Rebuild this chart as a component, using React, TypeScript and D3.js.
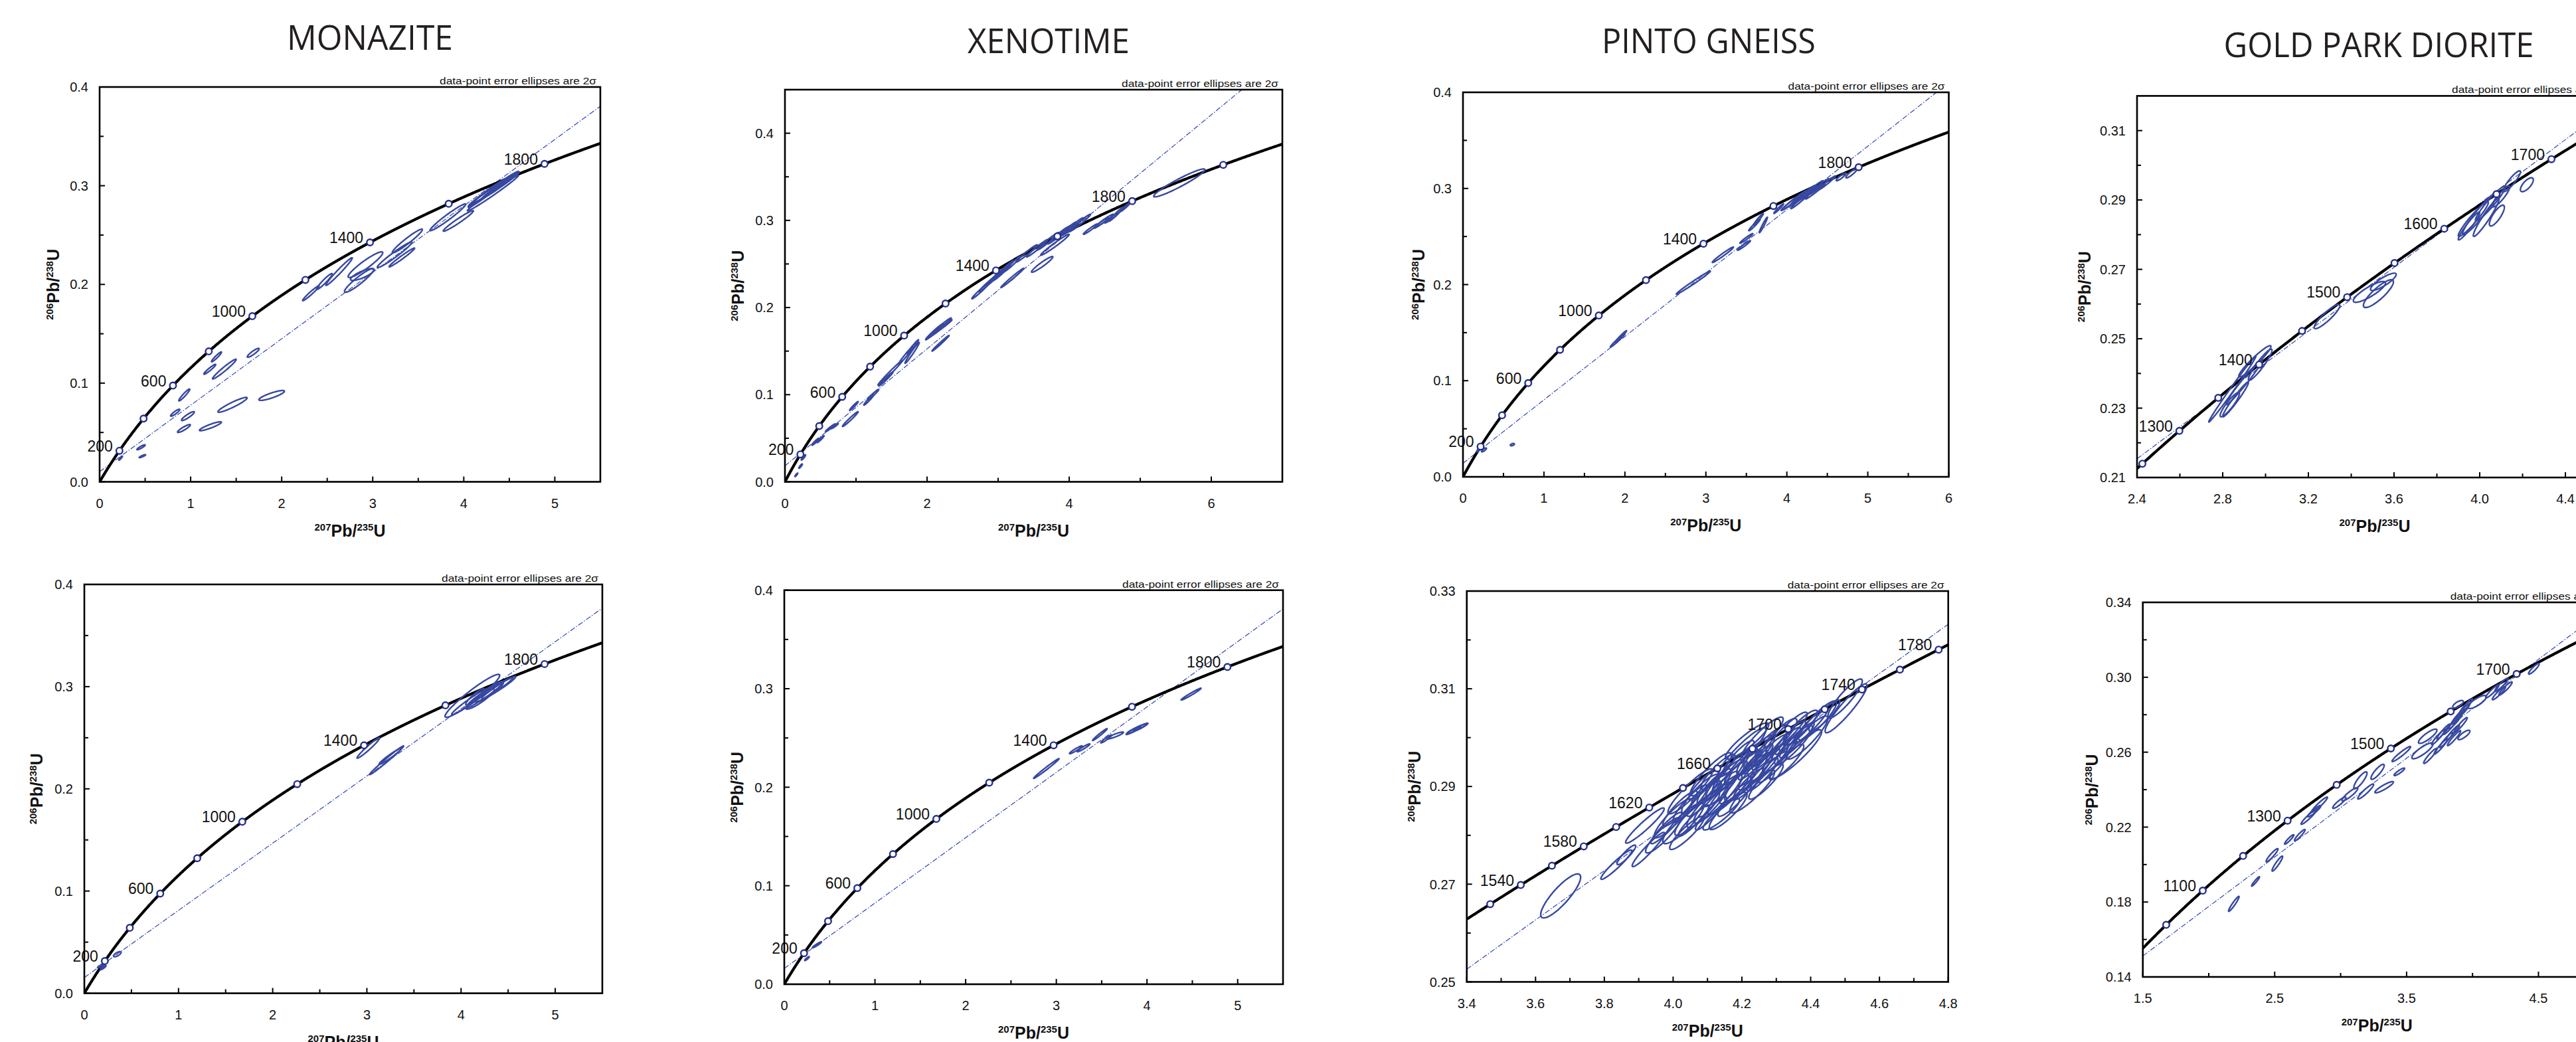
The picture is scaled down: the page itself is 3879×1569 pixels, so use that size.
import React from "react";
import * as d3 from "d3";

// U decay constants (per Ma) used for the Wetherill concordia
const LAMBDA_238 = 1.55125e-4;
const LAMBDA_235 = 9.8485e-4;

// ellipse rows: [207Pb/235U, 206Pb/238U, 2s x, 2s y, rho]
type Ell = [number, number, number, number, number];

const monaziteTopEllipses: Ell[] = [
  [0.23, 0.024, 0.02, 0.002, 0.9], [0.455, 0.035, 0.045, 0.0025, 0.9], [0.47, 0.026, 0.035, 0.0015, 0.9],
  [0.93, 0.088, 0.06, 0.006, 0.95], [0.83, 0.07, 0.05, 0.0035, 0.9], [0.97, 0.0666, 0.07, 0.0045, 0.9],
  [0.926, 0.054, 0.07, 0.004, 0.9], [1.217, 0.0563, 0.12, 0.0045, 0.9], [1.46, 0.078, 0.16, 0.0075, 0.93],
  [1.89, 0.0875, 0.14, 0.005, 0.85], [1.21, 0.114, 0.065, 0.005, 0.95], [1.284, 0.1266, 0.055, 0.005, 0.95],
  [1.37, 0.1142, 0.13, 0.01, 0.97], [1.687, 0.1307, 0.065, 0.0045, 0.9], [2.32, 0.191, 0.09, 0.0075, 0.97],
  [2.47, 0.203, 0.085, 0.008, 0.95], [2.63, 0.213, 0.145, 0.014, 0.98], [2.92, 0.22, 0.19, 0.013, 0.93],
  [2.85, 0.204, 0.16, 0.012, 0.93], [2.886, 0.21, 0.13, 0.006, 0.8], [3.24, 0.23, 0.19, 0.013, 0.97],
  [3.38, 0.244, 0.165, 0.012, 0.96], [3.32, 0.2273, 0.14, 0.0095, 0.98], [3.825, 0.268, 0.195, 0.0135, 0.97],
  [3.94, 0.2643, 0.165, 0.0104, 0.97], [4.35, 0.2985, 0.25, 0.016, 0.99], [4.3, 0.295, 0.22, 0.014, 0.99],
  [4.25, 0.292, 0.2, 0.014, 0.98], [4.4, 0.3, 0.2, 0.013, 0.99], [4.2, 0.289, 0.15, 0.01, 0.98],
  [4.45, 0.304, 0.16, 0.01, 0.99], [4.32, 0.2925, 0.28, 0.018, 0.99],
];

const xenotimeTopEllipses: Ell[] = [
  [0.16, 0.008, 0.02, 0.002, 0.9], [0.22, 0.018, 0.025, 0.0025, 0.9], [0.26, 0.028, 0.03, 0.003, 0.9],
  [0.43, 0.046, 0.05, 0.004, 0.95], [0.5, 0.049, 0.05, 0.004, 0.95], [0.64, 0.062, 0.07, 0.0045, 0.97],
  [0.7, 0.064, 0.05, 0.003, 0.95], [0.92, 0.072, 0.11, 0.0085, 0.98], [0.97, 0.087, 0.06, 0.005, 0.97],
  [1.18, 0.094, 0.07, 0.006, 0.97], [1.24, 0.1, 0.08, 0.006, 0.97], [1.48, 0.125, 0.17, 0.014, 0.99],
  [1.42, 0.118, 0.1, 0.008, 0.98], [1.7, 0.145, 0.1, 0.01, 0.98], [1.79, 0.148, 0.1, 0.012, 0.98],
  [1.8, 0.155, 0.08, 0.008, 0.98], [2.1, 0.172, 0.12, 0.009, 0.98], [2.17, 0.175, 0.18, 0.011, 0.99],
  [2.22, 0.18, 0.12, 0.008, 0.98], [2.19, 0.159, 0.12, 0.009, 0.99], [2.75, 0.219, 0.12, 0.009, 0.98],
  [2.85, 0.227, 0.12, 0.009, 0.98], [2.95, 0.234, 0.12, 0.009, 0.98], [3.0, 0.238, 0.12, 0.009, 0.98],
  [3.05, 0.24, 0.12, 0.009, 0.98], [3.1, 0.245, 0.12, 0.009, 0.98], [3.2, 0.25, 0.12, 0.009, 0.98],
  [3.2, 0.234, 0.16, 0.011, 0.99], [3.62, 0.2495, 0.15, 0.009, 0.95], [3.4, 0.262, 0.15, 0.01, 0.98],
  [3.55, 0.268, 0.15, 0.01, 0.98], [3.7, 0.276, 0.15, 0.01, 0.98], [3.85, 0.283, 0.15, 0.01, 0.98],
  [3.8, 0.272, 0.2, 0.012, 0.98], [3.95, 0.288, 0.15, 0.01, 0.98], [4.05, 0.293, 0.15, 0.01, 0.98],
  [4.15, 0.297, 0.15, 0.01, 0.98], [4.3, 0.29, 0.1, 0.006, 0.97], [4.45, 0.297, 0.1, 0.006, 0.97],
  [4.5, 0.3, 0.12, 0.007, 0.97], [4.6, 0.303, 0.1, 0.006, 0.97], [4.66, 0.307, 0.1, 0.008, 0.98],
  [4.8, 0.316, 0.08, 0.006, 0.98], [5.55, 0.343, 0.36, 0.016, 0.95],
];

const pintoTopEllipses: Ell[] = [
  [0.2, 0.029, 0.03, 0.003, 0.9], [0.26, 0.028, 0.03, 0.002, 0.8], [0.61, 0.0335, 0.025, 0.0012, 0.5],
  [1.91, 0.142, 0.09, 0.007, 0.98], [1.95, 0.146, 0.07, 0.006, 0.98], [2.845, 0.202, 0.21, 0.012, 0.99],
  [3.21, 0.231, 0.13, 0.008, 0.98], [3.47, 0.2407, 0.08, 0.005, 0.97], [3.5, 0.248, 0.08, 0.005, 0.97],
  [3.6, 0.262, 0.07, 0.006, 0.97], [3.71, 0.262, 0.05, 0.008, 0.97], [3.65, 0.268, 0.06, 0.006, 0.97],
  [3.9, 0.279, 0.06, 0.005, 0.97], [4.05, 0.285, 0.12, 0.008, 0.98], [4.1, 0.288, 0.15, 0.01, 0.98],
  [4.2, 0.293, 0.15, 0.01, 0.98], [4.25, 0.295, 0.12, 0.008, 0.98], [4.3, 0.298, 0.15, 0.01, 0.98],
  [4.35, 0.297, 0.12, 0.008, 0.98], [4.4, 0.302, 0.12, 0.008, 0.98], [4.5, 0.306, 0.1, 0.007, 0.98],
  [4.15, 0.286, 0.1, 0.007, 0.98], [4.67, 0.312, 0.06, 0.004, 0.9], [4.8, 0.316, 0.07, 0.005, 0.9],
];

const goldTopEllipses: Ell[] = [
  [2.845, 0.2355, 0.11, 0.0095, 0.995], [2.833, 0.231, 0.045, 0.0035, 0.9], [2.95, 0.2435, 0.075, 0.0045, 0.95],
  [2.975, 0.2425, 0.055, 0.0045, 0.93], [2.9, 0.2375, 0.085, 0.0065, 0.98], [2.86, 0.2325, 0.06, 0.005, 0.97],
  [3.287, 0.2564, 0.06, 0.0035, 0.9], [3.485, 0.2635, 0.075, 0.003, 0.85], [3.527, 0.263, 0.07, 0.004, 0.85],
  [3.55, 0.2664, 0.06, 0.0025, 0.85], [3.97, 0.2845, 0.07, 0.005, 0.95], [4.0, 0.286, 0.08, 0.006, 0.95],
  [4.05, 0.289, 0.07, 0.005, 0.95], [4.03, 0.285, 0.06, 0.0055, 0.95], [3.95, 0.2825, 0.05, 0.004, 0.95],
  [4.1, 0.291, 0.04, 0.003, 0.9], [4.08, 0.2855, 0.035, 0.003, 0.8], [4.15, 0.2954, 0.04, 0.003, 0.9],
  [4.22, 0.2944, 0.03, 0.002, 0.7],
];

const monaziteBottomEllipses: Ell[] = [
  [0.18, 0.027, 0.04, 0.002, 0.9], [0.2, 0.025, 0.03, 0.002, 0.9], [0.35, 0.0382, 0.04, 0.0025, 0.7],
  [3.016, 0.24, 0.12, 0.01, 0.97], [3.21, 0.228, 0.18, 0.014, 0.99], [3.25, 0.232, 0.12, 0.008, 0.97],
  [4.12, 0.291, 0.29, 0.021, 0.95], [4.25, 0.292, 0.2, 0.013, 0.97], [4.35, 0.297, 0.2, 0.012, 0.97],
  [4.3, 0.295, 0.15, 0.01, 0.9], [4.2, 0.288, 0.15, 0.01, 0.9], [4.4, 0.299, 0.18, 0.011, 0.97],
  [4.1, 0.2855, 0.2, 0.013, 0.97], [4.15, 0.29, 0.1, 0.008, 0.9],
];

const xenotimeBottomEllipses: Ell[] = [
  [0.25, 0.026, 0.025, 0.002, 0.9], [0.36, 0.04, 0.05, 0.003, 0.95], [2.89, 0.219, 0.14, 0.01, 0.99],
  [3.215, 0.238, 0.07, 0.004, 0.95], [3.3, 0.24, 0.07, 0.004, 0.95], [3.48, 0.2534, 0.08, 0.006, 0.98],
  [3.55, 0.249, 0.06, 0.004, 0.95], [3.65, 0.2525, 0.09, 0.0035, 0.9], [3.85, 0.2575, 0.08, 0.004, 0.95],
  [3.89, 0.2595, 0.11, 0.005, 0.95], [3.93, 0.261, 0.08, 0.004, 0.95], [4.486, 0.2945, 0.11, 0.006, 0.98],
];

const pintoBottomEllipses: Ell[] = [
  [3.673, 0.2676, 0.058, 0.0045, 0.85], [3.835, 0.274, 0.045, 0.003, 0.95], [3.864, 0.276, 0.027, 0.002, 0.9],
  [3.928, 0.2771, 0.047, 0.0035, 0.95], [3.918, 0.282, 0.056, 0.0036, 0.95], [4.14, 0.2843, 0.053, 0.0032, 0.9],
  [4.357, 0.2966, 0.075, 0.005, 0.92], [4.503, 0.306, 0.061, 0.005, 0.93], [4.5, 0.308, 0.05, 0.004, 0.9],
  [4.215, 0.2993, 0.063, 0.0037, 0.9],
  [4.0, 0.2835, 0.055, 0.004, 0.9], [4.03, 0.2825, 0.06, 0.0042, 0.88], [4.05, 0.2865, 0.05, 0.0038, 0.9],
  [4.07, 0.2845, 0.065, 0.0045, 0.9], [4.08, 0.2885, 0.055, 0.004, 0.88], [4.1, 0.286, 0.06, 0.0044, 0.9],
  [4.12, 0.29, 0.05, 0.0036, 0.88], [4.13, 0.2875, 0.07, 0.005, 0.92], [4.15, 0.2915, 0.055, 0.004, 0.9],
  [4.16, 0.2885, 0.06, 0.0042, 0.88], [4.18, 0.2935, 0.065, 0.0046, 0.9], [4.19, 0.2905, 0.055, 0.004, 0.9],
  [4.21, 0.295, 0.06, 0.0044, 0.92], [4.22, 0.292, 0.07, 0.005, 0.9], [4.24, 0.2965, 0.055, 0.004, 0.88],
  [4.25, 0.2935, 0.06, 0.0042, 0.9], [4.27, 0.298, 0.065, 0.0046, 0.9], [4.28, 0.295, 0.055, 0.0038, 0.88],
  [4.3, 0.2995, 0.06, 0.0044, 0.9], [4.31, 0.2965, 0.05, 0.0036, 0.9], [4.33, 0.301, 0.06, 0.0042, 0.92],
  [4.35, 0.2985, 0.055, 0.004, 0.9], [4.37, 0.302, 0.05, 0.0036, 0.88], [4.39, 0.3, 0.06, 0.0044, 0.9],
  [4.05, 0.289, 0.065, 0.0046, 0.92], [4.11, 0.2925, 0.06, 0.0044, 0.9], [4.2, 0.297, 0.07, 0.005, 0.92],
  [4.26, 0.3, 0.06, 0.0042, 0.9], [4.16, 0.285, 0.055, 0.0038, 0.88], [4.23, 0.289, 0.065, 0.0044, 0.9],
  [3.97, 0.28, 0.05, 0.0036, 0.9], [4.42, 0.3035, 0.055, 0.004, 0.9],
  [3.98, 0.2815, 0.045, 0.0032, 0.93], [4.02, 0.2855, 0.05, 0.0036, 0.9], [4.04, 0.2805, 0.05, 0.0034, 0.9],
  [4.06, 0.283, 0.045, 0.0032, 0.93], [4.09, 0.2875, 0.05, 0.0036, 0.9], [4.11, 0.2845, 0.045, 0.0034, 0.93],
  [4.14, 0.2895, 0.05, 0.0036, 0.9], [4.17, 0.292, 0.045, 0.0032, 0.93], [4.18, 0.2875, 0.05, 0.0036, 0.9],
  [4.2, 0.294, 0.05, 0.0034, 0.93], [4.22, 0.2905, 0.045, 0.0032, 0.9], [4.24, 0.295, 0.05, 0.0036, 0.93],
  [4.26, 0.2925, 0.045, 0.0034, 0.9], [4.28, 0.297, 0.05, 0.0036, 0.93], [4.29, 0.294, 0.045, 0.0032, 0.9],
  [4.32, 0.2985, 0.05, 0.0036, 0.93], [4.34, 0.3, 0.045, 0.0034, 0.9], [4.36, 0.2995, 0.05, 0.0036, 0.93],
  [4.4, 0.3025, 0.05, 0.0036, 0.93], [4.44, 0.3045, 0.045, 0.0032, 0.9], [4.13, 0.293, 0.05, 0.0036, 0.9],
  [4.19, 0.296, 0.045, 0.0034, 0.9], [4.09, 0.2905, 0.045, 0.0032, 0.9], [4.27, 0.291, 0.05, 0.0036, 0.9],
  [4.33, 0.295, 0.05, 0.0036, 0.9],
];

const goldBottomEllipses: Ell[] = [
  [2.19, 0.179, 0.04, 0.004, 0.95], [2.355, 0.191, 0.03, 0.0025, 0.95], [2.48, 0.205, 0.045, 0.0035, 0.93],
  [2.52, 0.2005, 0.04, 0.004, 0.93], [2.61, 0.2134, 0.035, 0.0025, 0.93], [2.69, 0.2157, 0.04, 0.003, 0.93],
  [2.76, 0.2255, 0.06, 0.004, 0.95], [2.8, 0.2285, 0.05, 0.003, 0.93], [2.84, 0.232, 0.06, 0.004, 0.95],
  [2.99, 0.233, 0.05, 0.003, 0.9], [3.07, 0.2375, 0.06, 0.0035, 0.9], [3.15, 0.245, 0.05, 0.0045, 0.85],
  [3.28, 0.2495, 0.05, 0.004, 0.85], [3.19, 0.239, 0.06, 0.004, 0.93], [3.33, 0.2413, 0.07, 0.003, 0.9],
  [3.445, 0.2495, 0.04, 0.002, 0.9], [3.46, 0.259, 0.07, 0.004, 0.95], [3.62, 0.2607, 0.08, 0.0042, 0.85],
  [3.66, 0.2685, 0.07, 0.0038, 0.85], [3.68, 0.258, 0.05, 0.004, 0.93], [3.74, 0.268, 0.05, 0.004, 0.95],
  [3.76, 0.263, 0.05, 0.004, 0.95], [3.78, 0.271, 0.05, 0.004, 0.95], [3.8, 0.2665, 0.05, 0.004, 0.95],
  [3.83, 0.2735, 0.05, 0.004, 0.95], [3.85, 0.2705, 0.05, 0.004, 0.95], [3.86, 0.2675, 0.05, 0.004, 0.95],
  [3.87, 0.2765, 0.05, 0.004, 0.95], [3.89, 0.279, 0.05, 0.004, 0.95], [3.91, 0.2745, 0.05, 0.004, 0.95],
  [3.93, 0.282, 0.05, 0.004, 0.95], [3.95, 0.2845, 0.05, 0.004, 0.95], [3.935, 0.2692, 0.045, 0.0025, 0.8],
  [3.89, 0.2856, 0.04, 0.002, 0.7], [4.035, 0.2868, 0.07, 0.0035, 0.8], [4.15, 0.2925, 0.05, 0.0035, 0.93],
  [4.22, 0.296, 0.05, 0.0035, 0.93], [4.2, 0.2915, 0.05, 0.0035, 0.93], [4.25, 0.294, 0.05, 0.0035, 0.93],
  [4.465, 0.3045, 0.04, 0.0028, 0.9],
];

// discordia (regression) lines: two end points each
const monaziteTopDiscordia = [[0, 0.0103], [5.5, 0.3805]];
const xenotimeTopDiscordia = [[0, 0.0183], [6.43, 0.45]];
const pintoTopDiscordia = [[0, 0.0141], [5.85, 0.4]];
const goldTopDiscordia = [[2.4, 0.2154], [4.62, 0.3175]];
const monaziteBottomDiscordia = [[0, 0.0154], [5.5, 0.3768]];
const xenotimeBottomDiscordia = [[0, 0.016], [5.5, 0.381]];
const pintoBottomDiscordia = [[3.4, 0.2526], [4.8, 0.3232]];
const goldBottomDiscordia = [[1.5, 0.1512], [5.05, 0.3386]];

// concordia age markers (Ma) and labelled ages
const ages200 = [200, 400, 600, 800, 1000, 1200, 1400, 1600, 1800];
const ages200to2000 = [200, 400, 600, 800, 1000, 1200, 1400, 1600, 1800, 2000];
const labels200 = [200, 600, 1000, 1400, 1800];
const goldTopAges = [1250, 1300, 1350, 1400, 1450, 1500, 1550, 1600, 1650, 1700, 1750];
const goldTopLabels = [1300, 1400, 1500, 1600, 1700];
const pintoBottomAges = [1520, 1540, 1560, 1580, 1600, 1620, 1640, 1660, 1680, 1700, 1720, 1740, 1760, 1780];
const pintoBottomLabels = [1540, 1580, 1620, 1660, 1700, 1740, 1780];
const goldBottomAges = [1000, 1100, 1200, 1300, 1400, 1500, 1600, 1700, 1800, 1900];
const goldBottomLabels = [1100, 1300, 1500, 1700];

// tick values
const fullXTicks = [0, 1, 2, 3, 4, 5];
const fullXMinor = [0.5, 1.5, 2.5, 3.5, 4.5];
const fullYTicks = [0, 0.1, 0.2, 0.3, 0.4];
const fullYMinor = [0.05, 0.15, 0.25, 0.35];
const xenoTopXTicks = [0, 2, 4, 6];
const xenoTopXMinor = [1, 3, 5];
const pintoTopXTicks = [0, 1, 2, 3, 4, 5, 6];
const pintoTopXMinor = [0.5, 1.5, 2.5, 3.5, 4.5, 5.5];
const goldTopXTicks = [2.4, 2.8, 3.2, 3.6, 4.0, 4.4];
const goldTopXMinor = [2.6, 3.0, 3.4, 3.8, 4.2, 4.6];
const goldTopYTicks = [0.21, 0.23, 0.25, 0.27, 0.29, 0.31];
const goldTopYMinor = [0.22, 0.24, 0.26, 0.28, 0.3];
const pintoBotXTicks = [3.4, 3.6, 3.8, 4.0, 4.2, 4.4, 4.6, 4.8];
const pintoBotXMinor = [3.5, 3.7, 3.9, 4.1, 4.3, 4.5, 4.7];
const pintoBotYTicks = [0.25, 0.27, 0.29, 0.31, 0.33];
const pintoBotYMinor = [0.26, 0.28, 0.3, 0.32];
const goldBotXTicks = [1.5, 2.5, 3.5, 4.5];
const goldBotXMinor = [2.0, 3.0, 4.0, 5.0];
const goldBotYTicks = [0.14, 0.18, 0.22, 0.26, 0.3, 0.34];
const goldBotYMinor = [0.16, 0.2, 0.24, 0.28, 0.32];

const titles = [
  { text: "MONAZITE", x: 557, y: 75, len: 250 },
  { text: "XENOTIME", x: 1579, y: 80, len: 244 },
  { text: "PINTO GNEISS", x: 2573, y: 80, len: 322 },
  { text: "GOLD PARK DIORITE", x: 3582, y: 86, len: 467 },
];

const f1 = d3.format(".1f");
const f2 = d3.format(".2f");
const fi = d3.format("d");

const panels = [
  { id: "a", left: 150, top: 131, width: 754, height: 594.5, xd: [0, 5.5], yd: [0, 0.4], xt: fullXTicks, xm: fullXMinor, yt: fullYTicks, ym: fullYMinor, xf: fi, yf: f1, ages: ages200, labels: labels200, disc: monaziteTopDiscordia, ells: monaziteTopEllipses, yOff: 61 },
  { id: "b", left: 1182, top: 135, width: 749, height: 590.5, xd: [0, 7], yd: [0, 0.45], xt: xenoTopXTicks, xm: xenoTopXMinor, yt: fullYTicks, ym: fullYMinor, xf: fi, yf: f1, ages: ages200to2000, labels: labels200, disc: xenotimeTopDiscordia, ells: xenotimeTopEllipses, yOff: 62 },
  { id: "c", left: 2203, top: 139, width: 731.5, height: 579, xd: [0, 6], yd: [0, 0.4], xt: pintoTopXTicks, xm: pintoTopXMinor, yt: fullYTicks, ym: fullYMinor, xf: fi, yf: f1, ages: ages200, labels: labels200, disc: pintoTopDiscordia, ells: pintoTopEllipses, yOff: 58 },
  { id: "d", left: 3218, top: 144.4, width: 716, height: 574.6, xd: [2.4, 4.62], yd: [0.21, 0.32], xt: goldTopXTicks, xm: goldTopXMinor, yt: goldTopYTicks, ym: goldTopYMinor, xf: f1, yf: f2, ages: goldTopAges, labels: goldTopLabels, disc: goldTopDiscordia, ells: goldTopEllipses, yOff: 70 },
  { id: "e", left: 127, top: 880, width: 780, height: 615.6, xd: [0, 5.5], yd: [0, 0.4], xt: fullXTicks, xm: fullXMinor, yt: fullYTicks, ym: fullYMinor, xf: fi, yf: f1, ages: ages200, labels: labels200, disc: monaziteBottomDiscordia, ells: monaziteBottomEllipses, yOff: 63 },
  { id: "f", left: 1181, top: 888.7, width: 751, height: 593.3, xd: [0, 5.5], yd: [0, 0.4], xt: fullXTicks, xm: fullXMinor, yt: fullYTicks, ym: fullYMinor, xf: fi, yf: f1, ages: ages200, labels: labels200, disc: xenotimeBottomDiscordia, ells: xenotimeBottomEllipses, yOff: 62 },
  { id: "g", left: 2208.7, top: 890, width: 725, height: 588.5, xd: [3.4, 4.8], yd: [0.25, 0.33], xt: pintoBotXTicks, xm: pintoBotXMinor, yt: pintoBotYTicks, ym: pintoBotYMinor, xf: f1, yf: f2, ages: pintoBottomAges, labels: pintoBottomLabels, disc: pintoBottomDiscordia, ells: pintoBottomEllipses, yOff: 70 },
  { id: "h", left: 3226.7, top: 907, width: 705, height: 564, xd: [1.5, 5.05], yd: [0.14, 0.34], xt: goldBotXTicks, xm: goldBotXMinor, yt: goldBotYTicks, ym: goldBotYMinor, xf: f1, yf: f2, ages: goldBottomAges, labels: goldBottomLabels, disc: goldBottomDiscordia, ells: goldBottomEllipses, yOff: 68 },
];

const FONT = "'Liberation Sans', Arial, sans-serif";
const ELL_COLOR = "#3748a0";
const MARK_COLOR = "#262f8c";
const thetas = d3.range(0, 2 * Math.PI, Math.PI / 60);
const curveAges = d3.range(0, 2300, 2);

function AxisTitle({ a, b }: { a: string; b: string }) {
  return (
    <>
      <tspan fontSize={15} dy={-9}>{a}</tspan>
      <tspan fontSize={25} dy={9}>Pb/</tspan>
      <tspan fontSize={15} dy={-9}>{b}</tspan>
      <tspan fontSize={25} dy={9}>U</tspan>
    </>
  );
}

function Panel({ p }: { p: any }) {
  const bottom = p.top + p.height;
  const right = p.left + p.width;
  const x = d3.scaleLinear().domain(p.xd).range([p.left, right]);
  const y = d3.scaleLinear().domain(p.yd).range([bottom, p.top]);
  const conc = (t: number) => [x(Math.expm1(LAMBDA_235 * t)), y(Math.expm1(LAMBDA_238 * t))];
  const curve = d3.line()(curveAges.map(conc) as [number, number][]);
  const ellPath = (e: Ell) => {
    const [cx, cy, sx, sy, r] = e;
    const q = Math.sqrt(1 - r * r);
    const pts = thetas.map((t) => [x(cx + sx * Math.cos(t)), y(cy + sy * (r * Math.cos(t) + q * Math.sin(t)))]);
    return d3.line().curve(d3.curveLinearClosed)(pts as [number, number][]);
  };
  const inside = (t: number) => {
    const [px, py] = conc(t);
    return px >= p.left - 1 && px <= right + 1 && py >= p.top - 1 && py <= bottom + 1;
  };
  const clip = `clip-${p.id}`;
  return (
    <g>
      <defs>
        <clipPath id={clip}>
          <rect x={p.left} y={p.top} width={p.width} height={p.height} />
        </clipPath>
      </defs>
      <g clipPath={`url(#${clip})`}>
        <line x1={x(p.disc[0][0])} y1={y(p.disc[0][1])} x2={x(p.disc[1][0])} y2={y(p.disc[1][1])}
          stroke="#2f45b8" strokeWidth={1.2} strokeDasharray="8,2.5,1.5,2.5" />
        <path d={curve!} fill="none" stroke="#000" strokeWidth={4.2} />
        {p.ells.map((e: Ell, i: number) => (
          <path key={i} d={ellPath(e)!} fill="none" stroke={ELL_COLOR} strokeWidth={2.4} />
        ))}
      </g>
      {p.ages.filter(inside).map((t: number) => {
        const [cx, cy] = conc(t);
        return <circle key={t} cx={cx} cy={cy} r={4.8} fill="#fff" stroke={MARK_COLOR} strokeWidth={2.4} />;
      })}
      {p.labels.filter(inside).map((t: number) => {
        const [cx, cy] = conc(t);
        return (
          <text key={t} x={cx - 10} y={cy + 1} textAnchor="end" fontSize={23} fontFamily={FONT} fill="#111">{t}</text>
        );
      })}
      <rect x={p.left} y={p.top} width={p.width} height={p.height} fill="none" stroke="#000" strokeWidth={2.6} />
      {p.xt.map((v: number) => (
        <g key={"xt" + v}>
          <line x1={x(v)} x2={x(v)} y1={bottom} y2={bottom - 8} stroke="#000" strokeWidth={2} />
          <text x={x(v)} y={bottom + 39} textAnchor="middle" fontSize={20} fontFamily={FONT} fill="#111">{p.xf(v)}</text>
        </g>
      ))}
      {p.xm.map((v: number) => (
        <line key={"xm" + v} x1={x(v)} x2={x(v)} y1={bottom} y2={bottom - 6} stroke="#000" strokeWidth={2} />
      ))}
      {p.yt.map((v: number) => (
        <g key={"yt" + v}>
          <line x1={p.left} x2={p.left + 8} y1={y(v)} y2={y(v)} stroke="#000" strokeWidth={2} />
          <text x={p.left - 17} y={y(v)} dy="0.36em" textAnchor="end" fontSize={20} fontFamily={FONT} fill="#111">{p.yf(v)}</text>
        </g>
      ))}
      {p.ym.map((v: number) => (
        <line key={"ym" + v} x1={p.left} x2={p.left + 6} y1={y(v)} y2={y(v)} stroke="#000" strokeWidth={2} />
      ))}
      <text x={right - 6} y={p.top - 4} textAnchor="end" fontSize={15} fontFamily={FONT} fill="#111"
        textLength={236} lengthAdjust="spacingAndGlyphs">data-point error ellipses are 2σ</text>
      <text x={(p.left + right) / 2} y={bottom + 82} textAnchor="middle" fontFamily={FONT} fontWeight="bold" fill="#111">
        <AxisTitle a="207" b="235" />
      </text>
      <text transform={`translate(${p.left - p.yOff},${p.top + p.height / 2}) rotate(-90)`} textAnchor="middle"
        fontFamily={FONT} fontWeight="bold" fill="#111">
        <AxisTitle a="206" b="238" />
      </text>
    </g>
  );
}

export default function App() {
  return (
    <div>
      <style>{`body{margin:0;background:#fff}`}</style>
      <svg width={3879} height={1569} style={{ display: "block", background: "#fff" }}>
        {titles.map((t) => (
          <text key={t.text} x={t.x} y={t.y} textAnchor="middle" fontSize={52} fontFamily="'Open Sans', 'Noto Sans', sans-serif"
            fill="#231f20" textLength={t.len} lengthAdjust="spacingAndGlyphs">{t.text}</text>
        ))}
        {panels.map((p) => (
          <Panel key={p.id} p={p} />
        ))}
      </svg>
    </div>
  );
}
